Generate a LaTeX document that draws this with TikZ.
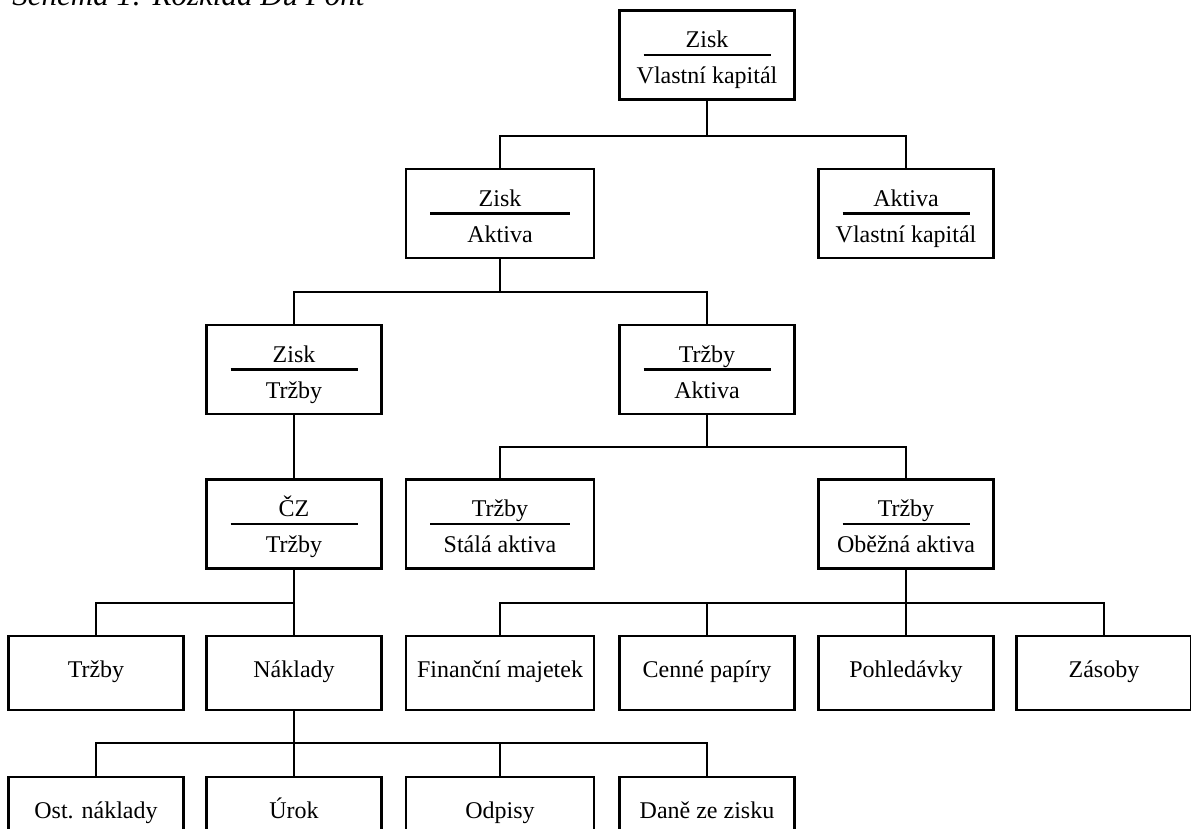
\documentclass[tikz,border=0pt]{standalone}
\usepackage{fontspec}
\setmainfont{Liberation Serif}
\usetikzlibrary{calc}
\tikzset{
  box/.style={draw, line width=1.2pt, minimum width=87.5pt, minimum height=37pt,
    inner sep=0pt, text height=7pt, text depth=3pt, font=\fontsize{12}{14}\selectfont}
}
\tikzset{
  fractext/.style={anchor=base, inner sep=0pt, font=\fontsize{12}{14}\selectfont}
}
\tikzset{
  link/.style={line width=1.2pt}
}
% ratio box: name, position, width, numerator, denominator
\newcommand{\fracbox}[5]{%
  \node[box, minimum width=#3, minimum height=44.5pt] (#1) at (#2) {};
  \node[fractext] (#1-num) at ([yshift=3.6pt]#1.center) {#4};
  \node[fractext] (#1-den) at ([yshift=-14.3pt]#1.center) {#5};
  \draw[link] ([xshift=-#3/2+12pt]#1.center) -- ([xshift=#3/2-12pt]#1.center);
}

\begin{document}
\begin{tikzpicture}[x=0.5pt, y=-0.5pt]
      \useasboundingbox (0,0) rectangle (1191,829);
      \node[anchor=base west, inner sep=0pt, font=\fontsize{15.5}{18}\selectfont\itshape] (caption) at (12,6) {Schéma 1: Rozklad Du Pont};
      % bus levels
      \coordinate (bus1) at (0,136);
      \coordinate (bus2) at (0,292);
      \coordinate (bus3) at (0,447);
      \coordinate (bus4) at (0,603);
      \coordinate (bus5) at (0,743);
      % ratios
      \fracbox{roe}{707,55}{87.5pt}{Zisk}{Vlastní kapitál}
      \fracbox{roa}{500,213.5}{94pt}{Zisk}{Aktiva}
      \fracbox{lev}{906,213.5}{87.5pt}{Aktiva}{Vlastní kapitál}
      \fracbox{ros}{294,369.5}{87.5pt}{Zisk}{Tržby}
      \fracbox{ato}{707,369.5}{87.5pt}{Tržby}{Aktiva}
      \fracbox{cz}{294,524}{87.5pt}{ČZ}{Tržby}
      \fracbox{fat}{500,524}{94pt}{Tržby}{Stálá aktiva}
      \fracbox{cat}{906,524}{87.5pt}{Tržby}{Oběžná aktiva}
      % items
      \node[box] (trzby) at (96,673) {Tržby};
      \node[box] (naklady) at (294,673) {Náklady};
      \node[box, minimum width=94pt] (fin) at (500,673) {Finanční majetek};
      \node[box] (cenne) at (707,673) {Cenné papíry};
      \node[box] (pohl) at (906,673) {Pohledávky};
      \node[box] (zasoby) at (1104,673) {Zásoby};
      \node[box] (ost) at (96,814) {Ost. náklady};
      \node[box] (urok) at (294,814) {Úrok};
      \node[box, minimum width=94pt] (odpisy) at (500,814) {Odpisy};
      \node[box] (dane) at (707,814) {Daně ze zisku};
      % connectors
      \draw[link] (roe.south) -- (roe.south |- bus1);
      \draw[link] (roa.north) |- (lev.north |- bus1) -- (lev.north);
      \draw[link] (roa.south) -- (roa.south |- bus2);
      \draw[link] (ros.north) |- (ato.north |- bus2) -- (ato.north);
      \draw[link] (ros.south) -- (cz.north);
      \draw[link] (ato.south) -- (ato.south |- bus3);
      \draw[link] (fat.north) |- (cat.north |- bus3) -- (cat.north);
      \draw[link] (cz.south) -- (cz.south |- bus4);
      \draw[link] (trzby.north) |- (naklady.north |- bus4) -- (naklady.north);
      \draw[link] (cat.south) -- (cat.south |- bus4);
      \draw[link] (fin.north) |- (zasoby.north |- bus4) -- (zasoby.north);
      \foreach \n in {cenne, pohl}
        \draw[link] (\n.north) -- (\n.north |- bus4);
      \draw[link] (naklady.south) -- (naklady.south |- bus5);
      \draw[link] (ost.north) |- (dane.north |- bus5) -- (dane.north);
      \foreach \n in {urok, odpisy}
        \draw[link] (\n.north) -- (\n.north |- bus5);
    \end{tikzpicture}
\end{document}
